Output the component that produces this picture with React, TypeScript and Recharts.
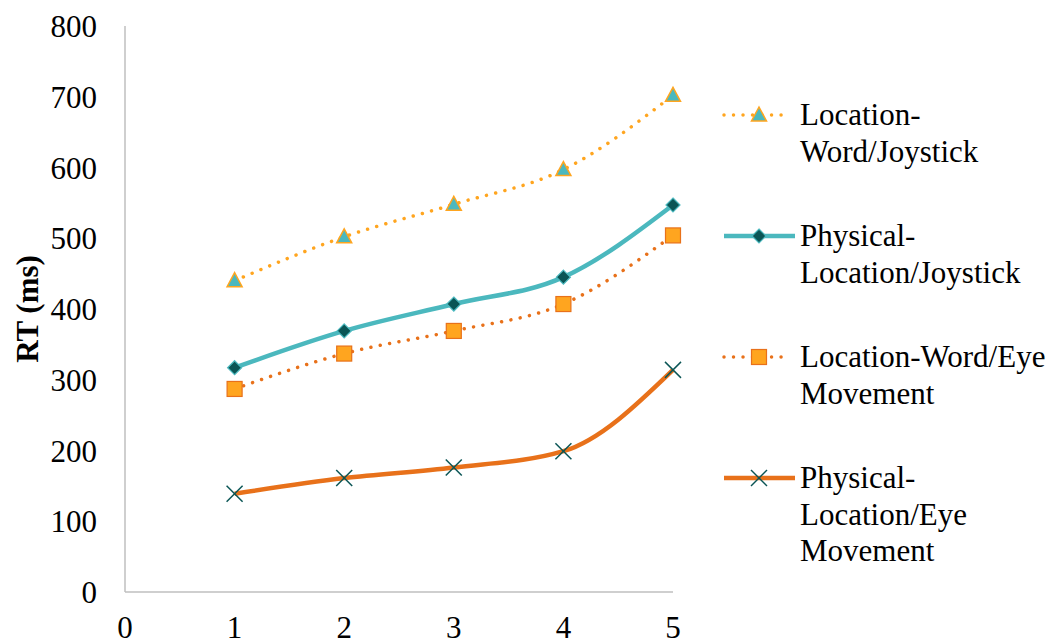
import React from 'react';
import { LineChart, Line, XAxis, YAxis, Legend } from 'recharts';

const blocks = [1, 2, 3, 4, 5];
const locWordJoystick = [440, 502, 548, 597, 702];
const physLocJoystick = [317, 369, 407, 445, 547];
const locWordEye = [287, 337, 369, 407, 504];
const physLocEye = [139, 161, 176, 199, 314];
const yTicks = [0, 100, 200, 300, 400, 500, 600, 700, 800];
const xTicks = [0, 1, 2, 3, 4, 5];

const seriesNames = [
  'Location-Word/Joystick',
  'Physical-Location/Joystick',
  'Location-Word/Eye Movement',
  'Physical-Location/Eye Movement',
];
const legendLines = [
  ['Location-', 'Word/Joystick'],
  ['Physical-', 'Location/Joystick'],
  ['Location-Word/Eye', 'Movement'],
  ['Physical-', 'Location/Eye', 'Movement'],
];

const data = blocks.map((b, i) => ({
  block: b,
  s0: locWordJoystick[i],
  s1: physLocJoystick[i],
  s2: locWordEye[i],
  s3: physLocEye[i],
}));

const FONT = '"Liberation Serif", "Times New Roman", serif';
const FS = 31;
const YELLOW = '#FFA51F';
const TEAL = '#4BB8BE';
const DARKTEAL = '#0A5555';
const ORANGE = '#E8711A';

const Triangle = ({ cx, cy }: any) => (
  <polygon
    points={`${cx},${cy - 8} ${cx + 7.5},${cy + 6} ${cx - 7.5},${cy + 6}`}
    fill={TEAL}
    stroke={YELLOW}
    strokeWidth={1.5}
  />
);
const Diamond = ({ cx, cy }: any) => (
  <polygon
    points={`${cx},${cy - 7} ${cx + 7},${cy} ${cx},${cy + 7} ${cx - 7},${cy}`}
    fill={DARKTEAL}
    stroke={TEAL}
    strokeWidth={1.2}
  />
);
const Square = ({ cx, cy }: any) => (
  <rect x={cx - 7.5} y={cy - 7.5} width={15} height={15} fill={YELLOW} stroke={ORANGE} strokeWidth={1.2} />
);
const Cross = ({ cx, cy }: any) => (
  <g stroke={DARKTEAL} strokeWidth={1.5}>
    <line x1={cx - 8} y1={cy - 8} x2={cx + 8} y2={cy + 8} />
    <line x1={cx - 8} y1={cy + 8} x2={cx + 8} y2={cy - 8} />
  </g>
);

const series = [
  { key: 's0', color: YELLOW, dotted: true, width: 3.5, Marker: Triangle },
  { key: 's1', color: TEAL, dotted: false, width: 4.5, Marker: Diamond },
  { key: 's2', color: ORANGE, dotted: true, width: 3.5, Marker: Square },
  { key: 's3', color: ORANGE, dotted: false, width: 4.5, Marker: Cross },
];

const renderLegend = () => (
  <div style={{ fontFamily: FONT, fontSize: FS, color: '#000' }}>
    {series.map((s, i) => {
      const M = s.Marker;
      return (
        <div key={s.key} style={{ display: 'flex', alignItems: 'flex-start', marginBottom: 48 }}>
          <svg width={80} height={37} style={{ flex: 'none' }}>
            <line
              x1={4}
              y1={18}
              x2={s.dotted ? 68 : 75}
              y2={18}
              stroke={s.color}
              strokeWidth={s.width}
              strokeDasharray={s.dotted ? '0.01 9.5' : undefined}
              strokeLinecap={s.dotted ? 'round' : 'butt'}
            />
            <M cx={39} cy={18} />
          </svg>
          <div style={{ lineHeight: '36.5px' }} title={seriesNames[i]}>
            {legendLines[i].map((l, j) => (
              <div key={j} style={{ whiteSpace: 'nowrap' }}>{l}</div>
            ))}
          </div>
        </div>
      );
    })}
  </div>
);

export default function App() {
  return (
    <div style={{ position: 'absolute', left: 0, top: 0, width: 1060, height: 644, background: '#fff' }}>
      <LineChart width={1060} height={644} data={data} margin={{ top: 26, right: 47, left: 0, bottom: 0 }}>
        <XAxis
          dataKey="block"
          type="number"
          domain={[0, 5]}
          ticks={xTicks}
          axisLine={{ stroke: '#BFBFBF', strokeWidth: 1.5 }}
          tickLine={false}
          tickSize={0}
          tickMargin={24}
          height={52}
          tick={{ fill: '#000', fontSize: FS, fontFamily: FONT }}
          interval={0}
        />
        <YAxis
          type="number"
          domain={[0, 800]}
          ticks={yTicks}
          axisLine={{ stroke: '#BFBFBF', strokeWidth: 1.5 }}
          tickLine={false}
          tickSize={0}
          tickMargin={28}
          width={125}
          tick={{ fill: '#000', fontSize: FS, fontFamily: FONT }}
          interval={0}
          label={{
            value: 'RT (ms)',
            angle: -90,
            position: 'insideLeft',
            dx: 22,
            style: { fontFamily: FONT, fontSize: FS, fontWeight: 'bold', fill: '#000', textAnchor: 'middle' },
          }}
        />
        <Legend
          layout="vertical"
          verticalAlign="top"
          align="right"
          content={renderLegend}
          wrapperStyle={{ position: 'absolute', left: 720, top: 97, width: 340 }}
        />
        {series.map((s, i) => (
          <Line
            key={s.key}
            dataKey={s.key}
            name={seriesNames[i]}
            type="monotone"
            stroke={s.color}
            strokeWidth={s.width}
            strokeDasharray={s.dotted ? '0.01 9.5' : undefined}
            strokeLinecap={s.dotted ? 'round' : 'butt'}
            dot={(p: any) => <s.Marker key={`${s.key}-${p.index}`} cx={p.cx} cy={p.cy} />}
            activeDot={false}
            isAnimationActive={false}
          />
        ))}
      </LineChart>
    </div>
  );
}
